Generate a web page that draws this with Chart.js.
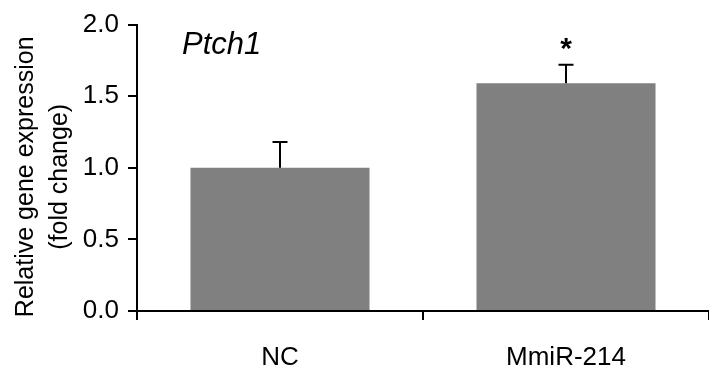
<!DOCTYPE html>
<html>
<head>
<meta charset="utf-8">
<script src="https://cdn.jsdelivr.net/npm/chart.js@4/dist/chart.umd.min.js"></script>
<style>
  html, body { margin: 0; padding: 0; background: #fff; }
  #wrap { width: 709px; height: 372px; }
</style>
</head>
<body>
<div id="wrap"><canvas id="c" width="709" height="372"></canvas></div>
<script>
// Relative Ptch1 expression, fold change vs. control
const categories = ['NC', 'MmiR-214'];
const foldChange = [1.0, 1.59];
const errorUpper = [0.18, 0.13];
const significance = ['', '*'];
const yTicks = [0, 0.5, 1.0, 1.5, 2.0];
const geneName = 'Ptch1';
const yTitle = ['Relative gene expression', '(fold change)'];

const FONT = '"Liberation Sans", Arial, Helvetica, sans-serif';

// Error bar caps, significance stars, gene name and the rotated axis title
const annotations = {
  id: 'annotations',
  afterDatasetsDraw(chart) {
    const { ctx, chartArea, scales: { y } } = chart;
    const meta = chart.getDatasetMeta(0);
    ctx.save();
    meta.data.forEach((bar, i) => {
      const top = y.getPixelForValue(foldChange[i] + errorUpper[i]);
      const base = y.getPixelForValue(foldChange[i]);
      const x = bar.x;
      ctx.strokeStyle = '#000';
      ctx.lineWidth = 2;
      ctx.beginPath();
      ctx.moveTo(x, base);
      ctx.lineTo(x, top);
      ctx.moveTo(x - 7.5, top);
      ctx.lineTo(x + 7.5, top);
      ctx.stroke();
      if (significance[i]) {
        ctx.fillStyle = '#000';
        ctx.font = 'bold 30px ' + FONT;
        ctx.textAlign = 'center';
        ctx.textBaseline = 'alphabetic';
        ctx.fillText(significance[i], x, top - 7);
      }
    });
    ctx.fillStyle = '#000';
    ctx.font = 'italic 31px ' + FONT;
    ctx.textAlign = 'left';
    ctx.textBaseline = 'alphabetic';
    ctx.fillText(geneName, chartArea.left + 45, y.getPixelForValue(2) + 29);

    // y-axis title, two lines reading bottom to top
    ctx.font = '25px ' + FONT;
    ctx.textAlign = 'center';
    const cy = (chartArea.top + chartArea.bottom) / 2 + 9;
    [33, 67].forEach((bx, k) => {
      ctx.save();
      ctx.translate(bx, cy);
      ctx.rotate(-Math.PI / 2);
      ctx.fillText(yTitle[k], 0, 0);
      ctx.restore();
    });
    ctx.restore();
  }
};

new Chart(document.getElementById('c'), {
  type: 'bar',
  data: {
    labels: categories,
    datasets: [{
      data: foldChange,
      backgroundColor: '#808080',
      borderWidth: 0,
      categoryPercentage: 1.0,
      barPercentage: 0.626
    }]
  },
  options: {
    responsive: false,
    animation: false,
    devicePixelRatio: 1,
    layout: { padding: { top: 17, left: 0, right: -3, bottom: 0 } },
    plugins: { legend: { display: false }, tooltip: { enabled: false } },
    scales: {
      x: {
        offset: true,
        border: { display: true, color: '#000', width: 2 },
        grid: {
          offset: true,
          drawOnChartArea: false,
          drawTicks: true,
          tickLength: 9,
          color: '#000',
          lineWidth: 2
        },
        ticks: {
          color: '#000',
          padding: 22,
          maxRotation: 0,
          font: { family: FONT, size: 26 }
        },
        afterFit(scale) { scale.height = 61; }
      },
      y: {
        min: 0,
        max: 2,
        afterBuildTicks(scale) { scale.ticks = yTicks.map(v => ({ value: v })); },
        border: { display: true, color: '#000', width: 2 },
        grid: {
          drawOnChartArea: false,
          drawTicks: true,
          tickLength: 9,
          color: '#000',
          lineWidth: 2
        },
        ticks: {
          color: '#000',
          padding: 9,
          font: { family: FONT, size: 26 },
          callback: v => Number(v).toFixed(1)
        },
        afterFit(scale) { scale.width = 137; }
      }
    }
  },
  plugins: [annotations]
});
</script>
</body>
</html>
